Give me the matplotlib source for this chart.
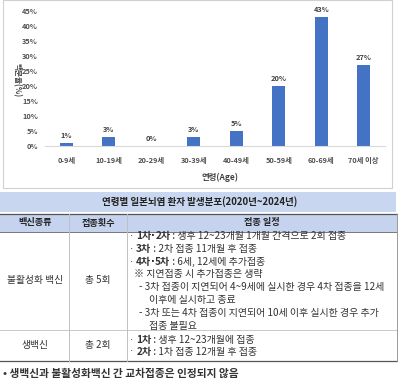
import matplotlib
matplotlib.use("Agg")
import matplotlib.pyplot as plt
from matplotlib.patches import Rectangle

plt.rcParams['font.family'] = ['Noto Sans CJK KR', 'DejaVu Sans']

# 연령별 환자 비율
age_groups = ['0-9세', '10-19세', '20-29세', '30-39세', '40-49세', '50-59세', '60-69세', '70세 이상']
percent = [1, 3, 0, 3, 5, 20, 43, 27]
y_ticks = [0, 5, 10, 15, 20, 25, 30, 35, 40, 45]

title_text = '연령별 일본뇌염 환자 발생분포(2020년~2024년)'
header = ['백신종류', '접종횟수', '접종 일정']
vaccines = ['불활성화 백신', '생백신']
doses = ['총 5회', '총 2회']
# (들여쓰기, 굵은 글씨, 나머지)
schedule_1 = [
    (0, '1차·2차', ' : 생후 12~23개월 1개월 간격으로 2회 접종'),
    (0, '3차', ' : 2차 접종 11개월 후 접종'),
    (0, '4차·5차', ' : 6세, 12세에 추가접종'),
    (1, '', '※ 지연접종 시 추가접종은 생략'),
    (2, '', '- 3차 접종이 지연되어 4~9세에 실시한 경우 4차 접종을 12세'),
    (3, '', '이후에 실시하고 종료'),
    (2, '', '- 3차 또는 4차 접종이 지연되어 10세 이후 실시한 경우 추가'),
    (3, '', '접종 불필요'),
]
schedule_2 = [
    (0, '1차', ' : 생후 12~23개월에 접종'),
    (0, '2차', ' : 1차 접종 12개월 후 접종'),
]
footnote = '• 생백신과 불활성화백신 간 교차접종은 인정되지 않음'

W, H = 400, 380
fig = plt.figure(figsize=(4, 3.8), dpi=100)
bg = fig.add_axes([0, 0, 1, 1])
bg.set_xlim(0, W)
bg.set_ylim(H, 0)
bg.axis('off')

# 차트 패널 테두리
bg.add_patch(Rectangle((3, 0), 389, 188, fill=False, ec='#d0d0d0', lw=0.8))

# 막대 그래프
ax = fig.add_axes([45 / W, (H - 146) / H, 340 / W, 135 / H])
x = range(len(age_groups))
ax.bar(x, percent, width=0.31, color='#4472C4')
for i, v in zip(x, percent):
    ax.text(i, v + 1.3, f'{v}%', ha='center', va='bottom', fontsize=5.3,
            fontweight='bold', color='#404040')
ax.set_xlim(-0.5, len(age_groups) - 0.5)
ax.set_ylim(0, 45)
ax.set_yticks(y_ticks)
ax.set_yticklabels([f'{t}%' for t in y_ticks])
ax.set_xticks(list(x))
ax.set_xticklabels(age_groups)
ax.tick_params(length=0, labelsize=5.3, colors='#505050', pad=8)
ax.tick_params(axis='y', pad=5)
for lab in ax.get_xticklabels() + ax.get_yticklabels():
    lab.set_fontweight('bold')
for s in ['top', 'right', 'left']:
    ax.spines[s].set_visible(False)
ax.spines['bottom'].set_color('#d9d9d9')
ax.set_facecolor('none')
bg.text(17, 80, '백분율(%)', rotation=270, ha='center', va='center',
        fontsize=5.5, fontweight='bold', color='#404040')
bg.text(220, 177, '연령(Age)', ha='center', va='center', fontsize=6,
        fontweight='bold', color='#404040')

# 제목 띠
bg.add_patch(Rectangle((0, 192), 396, 20, color='#c9d6ef', lw=0))
bg.text(200, 202, title_text, ha='center', va='center', fontsize=6.9,
        fontweight='bold', color='#222222')

# 표 머리
bg.add_patch(Rectangle((0, 214), 397, 18, color='#c5d3ee', lw=0))
bg.plot([0, 397], [214, 214], color='#555555', lw=0.9)
bg.plot([0, 397], [232, 232], color='#777777', lw=0.7)
bg.plot([0, 397], [330, 330], color='#c8c8c8', lw=0.7)
bg.plot([0, 397], [361, 361], color='#555555', lw=0.9)
for cx in [69, 127]:
    bg.plot([cx, cx], [214, 361], color='#c0c0c0', lw=0.7)
bg.plot([397, 397], [214, 361], color='#999999', lw=0.7)

for cx, h in zip([35, 98, 262], header):
    bg.text(cx, 223, h, ha='center', va='center', fontsize=6.6,
            fontweight='bold', color='#222222')

row_mid = [280, 345]
for y, v, d in zip(row_mid, vaccines, doses):
    bg.text(35, y, v, ha='center', va='center', fontsize=7, color='#333333')
    bg.text(98, y, d, ha='center', va='center', fontsize=7, color='#333333')

fig.canvas.draw()
renderer = fig.canvas.get_renderer()
FS = 7.2


def put(xx, y, s, bold=False, family=None):
    kw = {}
    if family:
        kw['family'] = family
    t = bg.text(xx, y, s, ha='left', va='center', fontsize=FS,
                fontweight='bold' if bold else 'normal', color='#333333', **kw)
    return xx + t.get_window_extent(renderer).width


def line_text(x0, y, indent, bold, rest):
    if indent == 0:
        xx = put(x0, y, '·', family='DejaVu Sans') + 3
        for j, piece in enumerate(bold.split('·')):
            if j > 0:
                xx = put(xx, y, '·', bold=True, family='DejaVu Sans')
            xx = put(xx, y, piece, bold=True)
        put(xx, y, rest)
    else:
        offs = {1: 4, 2: 9, 3: 19}[indent]
        put(x0 + offs, y, rest)


for i, (ind, b, r) in enumerate(schedule_1):
    line_text(130, 236 + i * 12.8, ind, b, r)
for i, (ind, b, r) in enumerate(schedule_2):
    line_text(130, 340 + i * 11.5, ind, b, r)

bg.text(3, 374, footnote, ha='left', va='center', fontsize=7.7,
        fontweight='bold', color='#333333')

fig.savefig('out.png', dpi=100)
